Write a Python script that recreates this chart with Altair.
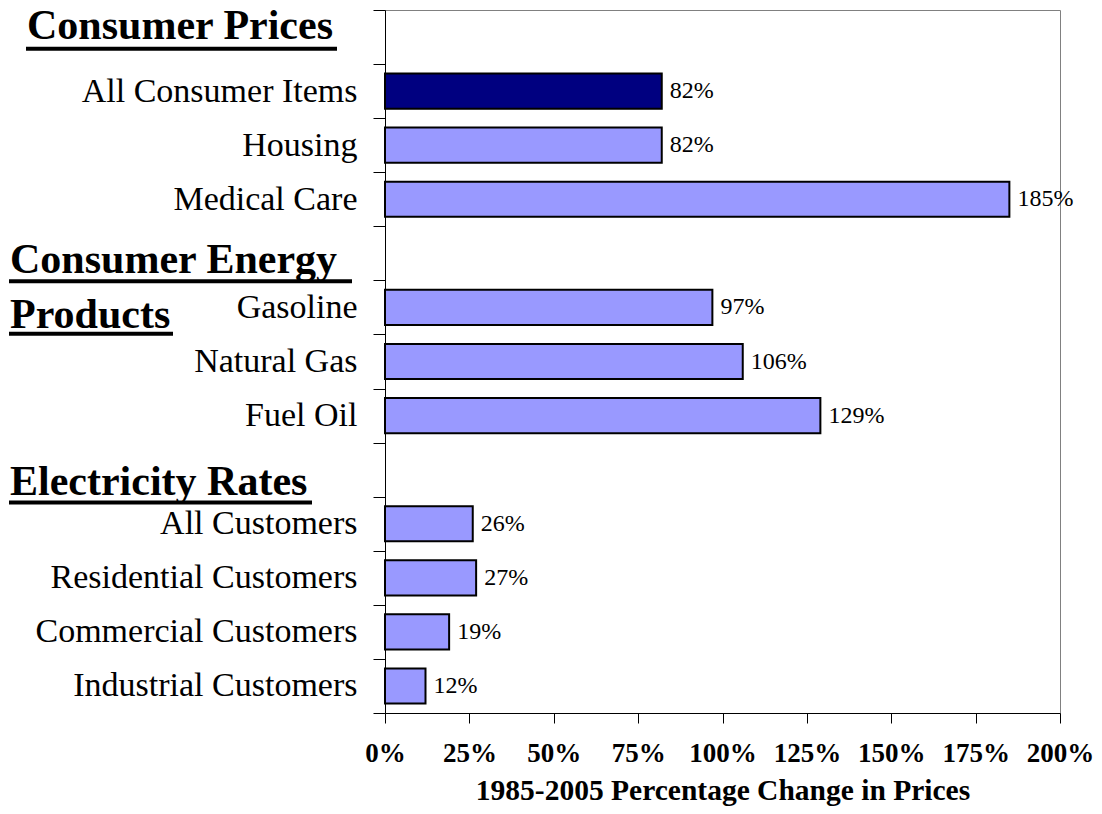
import altair as alt
import pandas as pd

# ---- data ----
rows = [" ", "All Consumer Items", "Housing", "Medical Care", "  ",
        "Gasoline", "Natural Gas", "Fuel Oil", "   ",
        "All Customers", "Residential Customers", "Commercial Customers",
        "Industrial Customers"]
categories = ["All Consumer Items", "Housing", "Medical Care", "Gasoline",
              "Natural Gas", "Fuel Oil", "All Customers",
              "Residential Customers", "Commercial Customers",
              "Industrial Customers"]
values = [82, 82, 185, 97, 106, 129, 26, 27, 19, 12]
kinds = ["total", "item", "item", "item", "item", "item", "item", "item", "item", "item"]
x_ticks = [0, 25, 50, 75, 100, 125, 150, 175, 200]
headers = ["Consumer Prices", "Consumer Energy", "Products", "Electricity Rates"]
x_title = "1985-2005 Percentage Change in Prices"

df = pd.DataFrame({"cat": categories, "value": values, "kind": kinds})

# ---- layout (pixels relative to plot origin) ----
W, H = 675, 703
FONT = "Liberation Serif"
header_pos = [(-358, 29), (-375, 263), (-375, 318), (-375, 485)]
underline_pos = [(-359, -48, 38.7), (-376, -33, 271.3), (-376, -212, 323.7), (-376, -73, 492.5)]

yenc = alt.Y("cat:N", sort=rows,
             scale=alt.Scale(domain=rows, paddingInner=0, paddingOuter=0),
             axis=alt.Axis(title=None, tickBand="extent", tickSize=12,
                           labelFontSize=34, labelPadding=16, labelLimit=500,
                           labelFont=FONT, labelColor="black"))
xenc = alt.X("value:Q",
             scale=alt.Scale(domain=[0, 200], nice=False),
             axis=alt.Axis(values=x_ticks, labelExpr="datum.value + '%'",
                           tickSize=10, labelFontSize=27, labelFontWeight="bold",
                           labelPadding=17, labelFlush=False, labelFont=FONT,
                           title=x_title, titleFontSize=29.5, titleFontWeight="bold",
                           titleFont=FONT, titleY=86, titleBaseline="alphabetic"))

bars = alt.Chart(df).mark_bar(height={"band": 0.65}, stroke="black", strokeWidth=2).encode(
    x=xenc, y=yenc,
    color=alt.Color("kind:N", scale=alt.Scale(domain=["total", "item"],
                                               range=["#000080", "#9999FF"]), legend=None),
)

labels = alt.Chart(df).transform_calculate(
    label="datum.value + '%'"
).mark_text(align="left", baseline="middle", dx=8, fontSize=24, font=FONT,
            color="black").encode(x=xenc, y=yenc, text="label:N")

layers = [bars, labels]
for h, (hx, hy) in zip(headers, header_pos):
    layers.append(
        alt.Chart(pd.DataFrame({"t": [h]})).mark_text(
            align="left", baseline="alphabetic", fontSize=42, fontWeight="bold",
            font=FONT, color="black"
        ).encode(text="t:N", x=alt.value(hx), y=alt.value(hy))
    )
for (x1, x2, yy) in underline_pos:
    layers.append(
        alt.Chart(pd.DataFrame({"a": [0]})).mark_rule(color="black", strokeWidth=4).encode(
            x=alt.value(x1), x2=alt.value(x2), y=alt.value(yy))
    )

chart = alt.layer(*layers).properties(
    width=W, height=H,
    autosize=alt.AutoSizeParams(type="none"),
    padding={"left": 377, "top": 2, "right": 34, "bottom": 93},
).configure_view(stroke="#808080", strokeWidth=1).configure_axis(
    domainColor="black", tickColor="black", labelColor="black",
    titleColor="black", grid=False, domainWidth=1, tickWidth=1
)

chart.save("out.html", embed_options={"renderer": "svg", "actions": False})
